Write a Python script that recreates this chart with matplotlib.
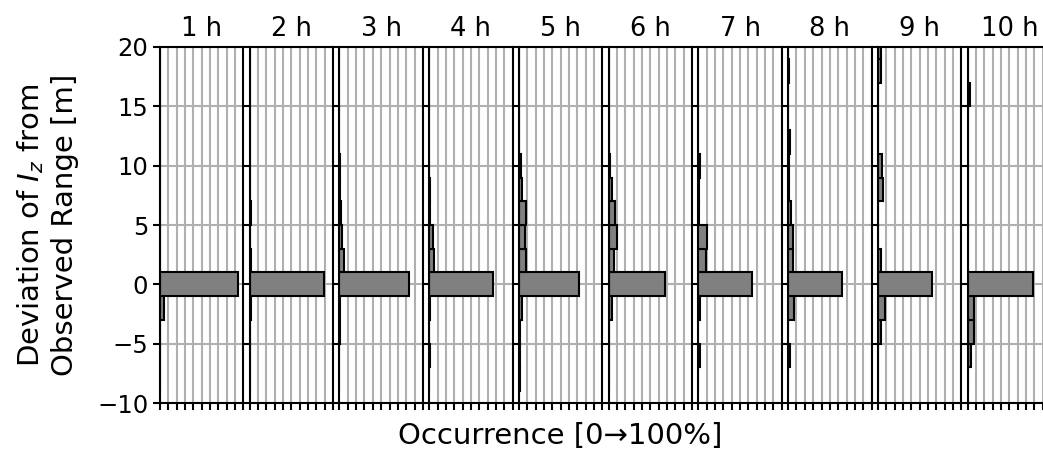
import numpy as np
import matplotlib
matplotlib.use('Agg')
import matplotlib.pyplot as plt


###############################
# Data (fraction of occurrences per 2 m bin)
###############################
bin_centers = [-8, -6, -4, -2, 0, 2, 4, 6, 8, 10, 12, 14, 16, 18, 20]
hour_labels = ['1 h', '2 h', '3 h', '4 h', '5 h', '6 h', '7 h', '8 h', '9 h', '10 h']

occ_1h = [0.0, 0.0, 0.0, 0.05, 0.93, 0.0, 0.0, 0.0, 0.0, 0.0, 0.0, 0.0, 0.0, 0.0, 0.005]
occ_2h = [0.0, 0.0, 0.0, 0.015, 0.895, 0.012, 0.0, 0.01, 0.0, 0.0, 0.0, 0.0, 0.005, 0.0, 0.0]
occ_3h = [0.0, 0.0, 0.005, 0.01, 0.83, 0.06, 0.025, 0.015, 0.01, 0.005, 0.0, 0.0, 0.0, 0.0, 0.0]
occ_4h = [0.0, 0.005, 0.0, 0.015, 0.77, 0.06, 0.05, 0.015, 0.005, 0.0, 0.0, 0.0, 0.0, 0.0, 0.0]
occ_5h = [0.01, 0.01, 0.01, 0.04, 0.72, 0.08, 0.07, 0.08, 0.04, 0.02, 0.0, 0.0, 0.0, 0.0, 0.0]
occ_6h = [0.0, 0.0, 0.0, 0.035, 0.675, 0.06, 0.10, 0.08, 0.04, 0.01, 0.005, 0.0, 0.0, 0.0, 0.0]
occ_7h = [0.0, 0.02, 0.0, 0.015, 0.64, 0.09, 0.10, 0.01, 0.005, 0.015, 0.0, 0.0, 0.0, 0.0, 0.0]
occ_8h = [0.0, 0.02, 0.0, 0.07, 0.64, 0.06, 0.06, 0.03, 0.01, 0.005, 0.02, 0.0, 0.0, 0.005, 0.0]
occ_9h = [0.0, 0.0, 0.04, 0.08, 0.65, 0.04, 0.005, 0.0, 0.065, 0.05, 0.0, 0.0, 0.0, 0.035, 0.04]
occ_10h = [0.0, 0.04, 0.08, 0.08, 0.78, 0.0, 0.0, 0.0, 0.0, 0.0, 0.0, 0.0, 0.03, 0.0, 0.0]

all_occ = [occ_1h, occ_2h, occ_3h, occ_4h, occ_5h, occ_6h, occ_7h, occ_8h, occ_9h, occ_10h]


###############################
# Plot
###############################
def main():
    fig, axes = plt.subplots(1, 10, sharey=True, figsize=(10.43, 4.51), dpi=100)
    fig.subplots_adjust(left=0.1534, right=1.0077, top=0.8958, bottom=0.1064, wspace=0.076)

    for ax, occ, label in zip(axes, all_occ, hour_labels):
        ax.set_axisbelow(True)
        ax.barh(bin_centers, occ, height=2, color='#808080', edgecolor='black', linewidth=1.5)
        ax.set_xlim(0, 1)
        ax.set_ylim(-10, 20)
        ax.set_xticks(np.arange(0, 1.01, 0.1))
        ax.set_xticklabels([])
        ax.set_yticks([-10, -5, 0, 5, 10, 15, 20])
        ax.grid(True, color='#b0b0b0', linewidth=1.5)
        ax.tick_params(axis='both', length=5, width=1.5, labelsize=17.5)
        for sp in ax.spines.values():
            sp.set_linewidth(1.5)
        ax.set_title(label, fontsize=18.5, pad=8)

    axes[0].set_ylabel('Deviation of $I_z$ from\nObserved Range [m]', fontsize=21, labelpad=13)
    axes[4].set_xlabel('Occurrence [0\u2192100%]', fontsize=21, labelpad=5)

    fig.savefig('out.png', dpi=100)


if __name__ == '__main__':
    main()
